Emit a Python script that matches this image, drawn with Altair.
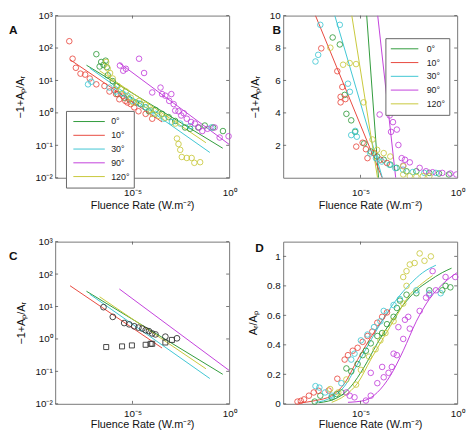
import altair as alt
import pandas as pd

SERIES = ["0°", "10°", "30°", "90°", "120°"]
COLORS = ["#2f9a3a", "#e8473d", "#3ec6d3", "#c23fdb", "#c8c83a"]
X_TICKS = [1e-5, 1.0]
A_Y_TICKS = [0.01, 0.1, 1, 10, 100, 1000]
B_Y_TICKS = [2, 4, 6, 8, 10]
D_Y_TICKS = [0, 0.2, 0.4, 0.6, 0.8, 1]

# ---------------- Panel A: log10(fluence) , log10(-1+Ap/AR)
a_g_lx = [-6.87, -6.70, -6.62, -6.50, -6.39, -6.33, -6.28, -6.02, -5.82, -5.77, -5.43, -5.17, -4.83,
          -4.57, -4.32, -4.15, -3.81, -3.47, -3.13, -2.79, -2.28, -2.02, -1.60, -1.26, -0.83, -0.32]
a_g_ly = [1.81, 1.43, 1.57, 1.48, 1.61, 1.41, 1.16, 0.98, 0.83, 0.58, 0.47, 0.42, 0.32,
          0.27, 0.17, 0.05, 0.09, -0.03, -0.13, -0.25, -0.45, -0.49, -0.45, -0.39, -0.45, -0.56]
a_r_lx = [-8.27, -8.10, -7.93, -7.69, -7.45, -7.21, -6.87, -6.45, -6.19, -5.94, -5.85, -5.68, -5.51,
          -5.37, -5.26, -5.09, -4.91, -4.69, -4.32, -3.98]
a_r_ly = [2.21, 1.67, 1.39, 1.21, 1.18, 1.06, 0.88, 0.83, 0.66, 0.70, 0.58, 0.42, 0.53,
          0.37, 0.32, 0.27, 0.17, 0.05, -0.03, -0.18]
a_c_lx = [-7.30, -7.13, -6.19, -5.85, -5.51, -5.26, -5.00, -4.66, -4.32, -4.06, -3.81, -3.38, -2.96,
          -2.53, -2.02, -0.92]
a_c_ly = [0.88, 0.96, 0.78, 0.66, 0.60, 0.53, 0.37, 0.29, 0.17, 0.07, -0.03, -0.18, -0.28,
          -0.33, -0.41, -0.45]
a_m_lx = [-5.65, -5.48, -5.34, -4.66, -4.40, -3.98, -3.55, -3.47, -3.30, -3.10, -2.99, -2.87, -2.79,
          -2.62, -2.48, -2.35, -2.19, -1.97, -1.77, -1.56, -1.39, -1.12, -0.75, -0.49, -0.03]
a_m_ly = [1.46, 1.30, 1.36, 1.67, 1.23, 0.63, 0.78, 0.58, 0.53, 0.37, 0.58, 0.27, 0.07,
          0.05, -0.08, -0.01, -0.18, -0.28, -0.33, -0.45, -0.56, -0.49, -0.45, -0.76, -0.72]
a_y_lx = [-6.36, -6.28, -6.16, -6.02, -5.77, -5.60, -5.34, -5.09, -4.97, -4.66, -4.32, -4.06, -3.95,
          -3.64, -3.30, -2.79, -2.70, -2.62, -2.53, -2.45, -2.19, -1.94, -1.80, -1.50]
a_y_ly = [1.57, 1.37, 1.23, 1.06, 0.83, 0.73, 0.66, 0.47, 0.32, 0.37, 0.25, 0.09, -0.03,
          -0.09, -0.15, -0.33, -0.79, -0.96, -1.14, -1.36, -1.39, -1.39, -1.54, -1.52]

# power-law fit lines (A and C), endpoints in log10
fit_g_lx, fit_g_ly = [-7.38, -0.33], [1.47, -1.09]
fit_r_lx, fit_r_ly = [-8.23, -3.47], [1.64, -0.28]
fit_c_lx, fit_c_ly = [-7.21, -1.00], [1.38, -1.22]
fit_m_lx, fit_m_ly = [-5.68, 0.00], [1.54, -0.97]
fit_y_lx, fit_y_ly = [-6.70, -1.20], [1.30, -0.92]

# ---------------- Panel B: log10(fluence), linear -1+Ap/AR
b_g_lx = [-6.44, -6.07, -5.82, -5.73, -5.48, -5.28, -4.81, -4.47, -4.14, -3.80, -3.46, -3.13, -2.62,
          -2.11, -1.44, -0.94, -0.43]
b_g_y = [8.65, 8.22, 5.11, 3.94, 3.54, 2.83, 2.12, 1.62, 1.31, 1.11, 0.81, 0.61, 0.40,
         0.40, 0.30, 0.26, 0.20]
b_r_lx = [-7.03, -6.20, -5.94, -6.03, -6.03, -5.78, -5.22, -4.89, -4.72, -4.64, -4.30, -3.97, -3.63]
b_r_y = [7.98, 6.57, 5.60, 4.99, 4.65, 4.85, 1.92, 2.16, 1.76, 1.21, 1.52, 1.11, 0.91]
b_c_lx = [-7.33, -7.19, -7.08, -6.07, -5.65, -5.55, -5.48, -5.27, -5.19, -4.50, -4.20, -3.90, -3.50,
          -3.20, -2.80, -2.30, -1.70, -1.10]
b_c_y = [7.17, 7.58, 9.43, 9.43, 5.80, 5.30, 2.63, 2.89, 2.53, 1.50, 1.20, 1.00, 0.80,
         0.60, 0.50, 0.35, 0.30, 0.30]
b_m_lx = [-4.01, -3.49, -3.32, -3.42, -3.12, -3.04, -2.87, -2.70, -2.45, -2.79, -1.94, -1.61, -1.27,
          -0.77, -0.35, -0.04]
b_m_y = [3.90, 3.84, 3.43, 2.83, 2.97, 2.02, 1.21, 1.11, 0.95, 0.75, 0.61, 0.40, 0.34,
         0.30, 0.26, 0.20]
b_y_lx = [-6.56, -5.90, -5.56, -5.23, -4.84, -4.38, -4.14, -3.80, -3.46, -2.79, -2.79, -2.45, -2.11,
          -1.78, -1.44]
b_y_y = [8.02, 6.97, 7.07, 7.01, 4.65, 2.36, 1.72, 1.52, 1.31, 0.71, 0.20, 0.10, 0.06,
         0.10, 0.10]

# linear fits in panel B (endpoints)
bfit_g_lx, bfit_g_y = [-4.68, -4.07], [10, 0]
bfit_r_lx, bfit_r_y = [-7.33, -3.88], [10, 0]
bfit_c_lx, bfit_c_y = [-6.33, -3.87], [10, 0]
bfit_m_lx, bfit_m_y = [-4.11, -3.18], [10, 0]
bfit_y_lx, bfit_y_y = [-5.45, -4.12], [10, 0]

# ---------------- Panel C
c_circ_lx = [-6.50, -6.02, -5.43, -5.17, -4.91, -4.69, -4.49, -4.32, -4.15, -3.98, -3.81, -3.30, -2.70]
c_circ_ly = [0.98, 0.68, 0.49, 0.45, 0.39, 0.35, 0.32, 0.27, 0.24, 0.17, 0.14, 0.07, 0.02]
c_sq_lx = [-6.36, -5.54, -5.03, -4.32, -4.06, -3.98, -3.30, -2.96]
c_sq_ly = [-0.25, -0.23, -0.20, -0.18, -0.15, -0.15, -0.11, -0.03]

# ---------------- Panel D: log10(fluence), AR/Ap
d_g_lx = [-7.37, -7.08, -6.49, -6.24, -5.99, -5.73, -5.48, -5.15, -4.89, -4.72, -4.47, -4.13, -3.88,
          -3.63, -3.29, -3.12, -2.96, -2.62, -2.11, -1.44, -0.77, -0.60, -0.35]
d_g_y = [0.015, 0.055, 0.044, 0.066, 0.077, 0.24, 0.22, 0.27, 0.33, 0.36, 0.41, 0.46, 0.48,
         0.54, 0.59, 0.65, 0.70, 0.74, 0.75, 0.77, 0.77, 0.80, 0.79]
d_r_lx = [-8.26, -8.09, -7.92, -7.67, -7.42, -7.17, -6.65, -6.20, -5.82, -5.65, -5.40, -5.15, -4.89,
          -4.64, -4.39, -4.13, -3.88, -3.63]
d_r_y = [0.015, 0.02, 0.03, 0.055, 0.077, 0.088, 0.09, 0.17, 0.30, 0.33, 0.36, 0.38, 0.42,
         0.46, 0.49, 0.55, 0.59, 0.62]
d_c_lx = [-7.33, -7.13, -6.83, -6.49, -5.99, -5.48, -5.31, -4.98, -4.64, -4.30, -3.97, -3.80, -3.29,
          -2.96, -2.11, -1.44, -0.85]
d_c_y = [0.12, 0.11, 0.077, 0.055, 0.14, 0.30, 0.34, 0.43, 0.47, 0.52, 0.56, 0.63, 0.67,
         0.71, 0.77, 0.75, 0.75]
d_m_lx = [-5.73, -5.56, -5.31, -4.72, -4.47, -4.47, -4.13, -3.88, -3.80, -3.55, -3.38, -3.29, -3.12,
          -3.04, -2.79, -2.70, -2.53, -2.45, -1.94, -1.61, -1.44, -1.27, -1.10, -0.60, -0.10]
d_m_y = [0.077, 0.055, 0.044, 0.022, 0.055, 0.21, 0.14, 0.25, 0.18, 0.21, 0.25, 0.34, 0.33,
         0.52, 0.44, 0.57, 0.59, 0.51, 0.63, 0.72, 0.74, 0.90, 0.77, 0.86, 0.86]
d_y_lx = [-6.57, -6.15, -5.73, -5.23, -4.98, -4.56, -4.22, -3.97, -3.71, -3.29, -2.79, -2.62, -2.79,
          -2.62, -2.45, -2.20, -1.94, -1.69, -1.36]
d_y_y = [0.10, 0.077, 0.165, 0.13, 0.23, 0.32, 0.37, 0.43, 0.48, 0.56, 0.68, 0.80, 0.86,
         0.90, 0.945, 0.955, 1.02, 0.97, 1.00]

# fitted curves in D
dfit_g_lx = [-7.17, -6.15, -5.48, -4.81, -4.13, -3.46, -2.79, -2.11, -1.44, -0.77, -0.29]
dfit_g_y = [0.007, 0.044, 0.12, 0.25, 0.41, 0.55, 0.67, 0.77, 0.835, 0.89, 0.92]
dfit_r_lx = [-8.26, -7.33, -6.49, -5.82, -5.15, -4.47, -3.80, -3.46]
dfit_r_y = [0.004, 0.022, 0.055, 0.14, 0.30, 0.45, 0.58, 0.64]
dfit_c_lx = [-7.33, -6.49, -5.82, -5.15, -4.47, -3.80, -3.12, -2.45, -1.78, -1.10]
dfit_c_y = [0.01, 0.044, 0.12, 0.27, 0.43, 0.58, 0.71, 0.81, 0.89, 0.94]
dfit_m_lx = [-5.65, -4.81, -4.13, -3.46, -2.79, -2.11, -1.44, -0.77, 0.0]
dfit_m_y = [0.01, 0.022, 0.077, 0.19, 0.36, 0.56, 0.71, 0.81, 0.89]
dfit_y_lx = [-6.49, -5.82, -5.15, -4.47, -3.80, -3.12, -2.45, -1.78, -1.27]
dfit_y_y = [0.01, 0.055, 0.14, 0.30, 0.45, 0.60, 0.74, 0.82, 0.87]

W, H = 177, 165
TICK = "#555555"
FONT = "Liberation Sans"


def table(groups, ylog):
    rows = []
    for s, lxs, ys in groups:
        for a, b in zip(lxs, ys):
            rows.append({"s": s, "x": 10 ** a, "y": (10 ** b) if ylog else b})
    return pd.DataFrame(rows)


def grouped(g, r, c, m, y):
    return [("0°",) + g, ("10°",) + r, ("30°",) + c, ("90°",) + m, ("120°",) + y]


a_pts = table(grouped((a_g_lx, a_g_ly), (a_r_lx, a_r_ly), (a_c_lx, a_c_ly), (a_m_lx, a_m_ly), (a_y_lx, a_y_ly)), True)
fits = table(grouped((fit_g_lx, fit_g_ly), (fit_r_lx, fit_r_ly), (fit_c_lx, fit_c_ly), (fit_m_lx, fit_m_ly), (fit_y_lx, fit_y_ly)), True)
b_pts = table(grouped((b_g_lx, b_g_y), (b_r_lx, b_r_y), (b_c_lx, b_c_y), (b_m_lx, b_m_y), (b_y_lx, b_y_y)), False)
b_fits = table(grouped((bfit_g_lx, bfit_g_y), (bfit_r_lx, bfit_r_y), (bfit_c_lx, bfit_c_y), (bfit_m_lx, bfit_m_y), (bfit_y_lx, bfit_y_y)), False)
c_circ = table([("circle", c_circ_lx, c_circ_ly)], True)
c_sq = table([("square", c_sq_lx, c_sq_ly)], True)
d_pts = table(grouped((d_g_lx, d_g_y), (d_r_lx, d_r_y), (d_c_lx, d_c_y), (d_m_lx, d_m_y), (d_y_lx, d_y_y)), False)
d_fits = table(grouped((dfit_g_lx, dfit_g_y), (dfit_r_lx, dfit_r_y), (dfit_c_lx, dfit_c_y), (dfit_m_lx, dfit_m_y), (dfit_y_lx, dfit_y_y)), False)

xscale = alt.Scale(type="log", domain=[1e-9, 1], nice=False)
logy = alt.Scale(type="log", domain=[1e-2, 1e3], nice=False)
liny_b = alt.Scale(domain=[0, 10], nice=False, zero=False)
liny_d = alt.Scale(domain=[0, 1.1], nice=False, zero=False)
cscale = alt.Scale(domain=SERIES, range=COLORS)

LOG_LABELS = "['10⁻²','10⁻¹','10⁰','10¹','10²','10³'][round(log(datum.value)/LN10)+2]"


def xaxis(lp, ty):
    return alt.Axis(values=X_TICKS, labelExpr="datum.value < 0.001 ? '10⁻⁵' : '10⁰'",
                    title="Fluence Rate (W.m⁻²)", labelPadding=lp, titleY=ty,
                    titleBaseline="middle", labelFlush=False, labelOverlap=False)


def yaxis(values, title, tx, expr=None, fmt=None):
    kw = dict(values=values, title=title, titleX=tx, titleBaseline="middle", labelPadding=3,
              labelOverlap=False, labelFlush=False, labelBaseline="middle")
    if expr:
        kw["labelExpr"] = expr
    if fmt:
        kw["format"] = fmt
    return alt.Axis(**kw)


def legend(lx, ly, ssize, soff, loff):
    return alt.Legend(orient="none", legendX=lx, legendY=ly, title=None, symbolType="stroke",
                      symbolSize=ssize, symbolStrokeWidth=1, symbolOffset=soff, labelOffset=loff,
                      labelFontSize=9, labelColor="#222", padding=4, strokeColor="#666",
                      fillColor="white", clipHeight=13.6, rowPadding=0)


def tick_layers(xs, ys, ys_scale, xa, ya):
    tx = pd.DataFrame({"x": xs})
    ty = pd.DataFrame({"y": ys})
    X = alt.X("x:Q", scale=xscale, axis=xa)
    Y = alt.Y("y:Q", scale=ys_scale, axis=ya)
    r = dict(color=TICK, strokeWidth=0.8)
    return [
        alt.Chart(tx).mark_rule(**r).encode(x=X, y=alt.value(H), y2=alt.value(H - 3)),
        alt.Chart(tx).mark_rule(**r).encode(x=X, y=alt.value(0), y2=alt.value(3)),
        alt.Chart(ty).mark_rule(**r).encode(y=Y, x=alt.value(0), x2=alt.value(3)),
        alt.Chart(ty).mark_rule(**r).encode(y=Y, x=alt.value(W), x2=alt.value(W - 3)),
    ]


def label(t, x, y, align):
    return alt.Chart(pd.DataFrame({"t": [t]})).mark_text(
        fontWeight="bold", fontSize=12, align=align, baseline="middle", color="#111"
    ).encode(text="t:N", x=alt.value(x), y=alt.value(y))


PT = dict(shape="circle", filled=False, size=32, strokeWidth=0.85, opacity=1)

# ---- Panel A
xa_top = xaxis(10, 28.5)
xa_bot = xaxis(5, 21.5)
ya_A = yaxis(A_Y_TICKS, "−1+Aₚ/Aᵣ", -35.5, expr=LOG_LABELS)
legA = legend(11, 97, 1024, 3, 6)
A = alt.layer(
    alt.Chart(fits).mark_line(strokeWidth=1, clip=True).encode(
        x=alt.X("x:Q", scale=xscale, axis=xa_top), y=alt.Y("y:Q", scale=logy, axis=ya_A),
        color=alt.Color("s:N", scale=cscale, legend=legA), detail="s:N"),
    alt.Chart(a_pts).mark_point(**PT).encode(
        x=alt.X("x:Q", scale=xscale, axis=xa_top), y=alt.Y("y:Q", scale=logy, axis=ya_A),
        color=alt.Color("s:N", scale=cscale, legend=legA)),
    *tick_layers([1e-5], A_Y_TICKS, logy, xa_top, ya_A),
    label("A", -47, 15, "left"),
).properties(width=W, height=H)

# ---- Panel B
ya_B = yaxis(B_Y_TICKS, "−1+Aₚ/Aᵣ", -28)
legB = legend(104, 23, 784, 1, 8)
B = alt.layer(
    alt.Chart(b_fits).mark_line(strokeWidth=1, clip=True).encode(
        x=alt.X("x:Q", scale=xscale, axis=xa_top), y=alt.Y("y:Q", scale=liny_b, axis=ya_B),
        color=alt.Color("s:N", scale=cscale, legend=legB), detail="s:N"),
    alt.Chart(b_pts).mark_point(clip=True, **PT).encode(
        x=alt.X("x:Q", scale=xscale, axis=xa_top), y=alt.Y("y:Q", scale=liny_b, axis=ya_B),
        color=alt.Color("s:N", scale=cscale, legend=legB)),
    *tick_layers([1e-5], B_Y_TICKS, liny_b, xa_top, ya_B),
    label("B", -6.5, 15, "center"),
).properties(width=W, height=H)

# ---- Panel C
ya_C = yaxis(A_Y_TICKS, "−1+Aₚ/Aᵣ", -34, expr=LOG_LABELS)
C = alt.layer(
    alt.Chart(fits).mark_line(strokeWidth=1, clip=True).encode(
        x=alt.X("x:Q", scale=xscale, axis=xa_bot), y=alt.Y("y:Q", scale=logy, axis=ya_C),
        color=alt.Color("s:N", scale=cscale, legend=None), detail="s:N"),
    alt.Chart(c_circ).mark_point(shape="circle", filled=False, size=34, strokeWidth=0.9, color="#333", opacity=1).encode(
        x=alt.X("x:Q", scale=xscale, axis=xa_bot), y=alt.Y("y:Q", scale=logy, axis=ya_C)),
    alt.Chart(c_sq).mark_point(shape="square", filled=False, size=26, strokeWidth=0.9, color="#333", opacity=1).encode(
        x=alt.X("x:Q", scale=xscale, axis=xa_bot), y=alt.Y("y:Q", scale=logy, axis=ya_C)),
    *tick_layers([1e-5], A_Y_TICKS, logy, xa_bot, ya_C),
    label("C", -47, 15, "left"),
).properties(width=W, height=H)

# ---- Panel D
ya_D = yaxis(D_Y_TICKS, "Aᵣ/Aₚ", -30, fmt="~g")
D = alt.layer(
    alt.Chart(d_fits).mark_line(strokeWidth=1, clip=True, interpolate="monotone").encode(
        x=alt.X("x:Q", scale=xscale, axis=xa_bot), y=alt.Y("y:Q", scale=liny_d, axis=ya_D),
        color=alt.Color("s:N", scale=cscale, legend=None), detail="s:N"),
    alt.Chart(d_pts).mark_point(**PT).encode(
        x=alt.X("x:Q", scale=xscale, axis=xa_bot), y=alt.Y("y:Q", scale=liny_d, axis=ya_D),
        color=alt.Color("s:N", scale=cscale, legend=None)),
    *tick_layers([1e-5], D_Y_TICKS, liny_d, xa_bot, ya_D),
    label("D", -24, 7, "center"),
).properties(width=W, height=H)

chart = alt.concat(
    A, B, C, D, columns=2, spacing={"row": 65, "column": 55}, bounds="flush"
).resolve_scale(
    color="independent", x="independent", y="independent"
).resolve_legend(
    color="independent"
).properties(
    padding={"left": 0, "top": -2, "right": 0, "bottom": 0}, background="white"
).configure(
    font=FONT
).configure_view(
    stroke="#777777", strokeWidth=1
).configure_axis(
    domain=False, ticks=False, tickSize=0, grid=False, labelFontSize=10, titleFontSize=11,
    titleFontWeight="normal", labelColor="#111", titleColor="#111", labelFont=FONT, titleFont=FONT
).configure_legend(
    labelFont=FONT
)

chart.save("out.html", embed_options={"renderer": "svg", "actions": False})
